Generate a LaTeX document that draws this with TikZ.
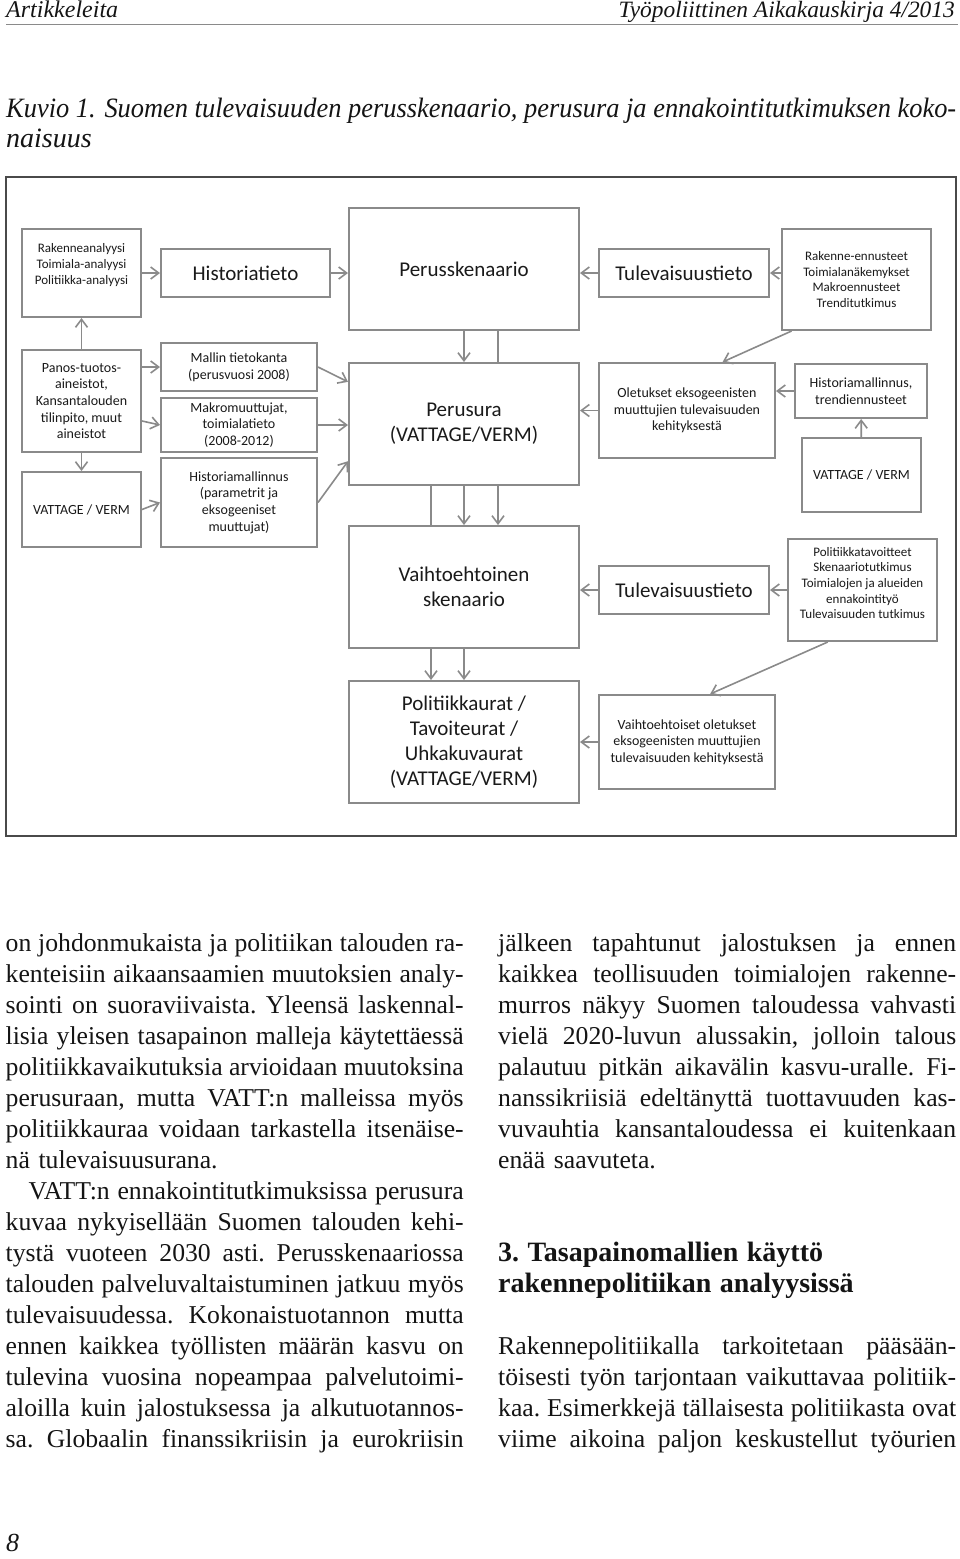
\documentclass[tikz,border=0pt]{standalone}
\usepackage{fontspec}
\usepackage{graphicx}
\setmainfont{Liberation Serif}
\newfontfamily\boxfont{Carlito}
\usetikzlibrary{calc}
\usetikzlibrary{arrows.meta}

\definecolor{boxgray}{HTML}{8A8A8A}
\definecolor{boxtext}{HTML}{1A1A1A}
\definecolor{framegray}{HTML}{4A4A4A}
\definecolor{bodytext}{HTML}{141414}

\newcommand{\jline}[1]{{\spaceskip=0pt \xspaceskip=0pt \makebox[458pt][s]{#1}}}

\begin{document}
\begin{tikzpicture}[x=1pt,y=-1pt,
  box/.style={draw=boxgray, line width=2pt, fill=white, align=center, text=boxtext, inner sep=2pt,
    font=\boxfont\fontsize{14}{16.7}\selectfont},
  bigbox/.style={box, font=\boxfont\fontsize{21}{25}\selectfont},
  smallbox/.style={box, font=\boxfont\fontsize{13}{15.6}\selectfont},
  smalltext/.style={align=center, text=boxtext, font=\boxfont\fontsize{13}{15.6}\selectfont},
  arr/.style={draw=boxgray, line width=1.6pt, -{Straight Barb[length=8pt,width=12pt]}},
  link/.style={draw=boxgray, line width=1.6pt},
  coltext/.style={text width=458pt, align=left, inner sep=0pt, text=bodytext,
    font=\fontsize{25.7}{31}\selectfont\frenchspacing}
]
\useasboundingbox (0,0) rectangle (960,1559);

%header
\node[anchor=base west, text=bodytext, font=\fontsize{24}{28}\selectfont\itshape, inner sep=0pt] (head) at (6,17) {Artikkeleita};
\node[anchor=base east, text=bodytext, font=\fontsize{23.4}{28}\selectfont\itshape, inner sep=0pt] (journal) at (955,17) {Työpoliittinen Aikakauskirja 4/2013};
\draw[boxgray, line width=1pt] (6,24.5) -- (958,24.5);

%caption
\node[anchor=base west, text=bodytext, font=\fontsize{28}{30}\selectfont\itshape, inner sep=0pt] (cap1) at (6,117)
  {\resizebox{950pt}{\height}{Kuvio 1. Suomen tulevaisuuden perusskenaario, perusura ja ennakointitutkimuksen koko-}};
\node[anchor=base west, text=bodytext, font=\fontsize{28}{30}\selectfont\itshape, inner sep=0pt] (cap2) at (6,147) {naisuus};

%frame
\draw[framegray, line width=1.6pt] (6,177) rectangle (956,836);

%top row
\node[smallbox, minimum width=119pt, minimum height=88pt,
  label={[smalltext, yshift=8pt]center:Rakenneanalyysi\\Toimiala-analyysi\\Politiikka-analyysi}] (rak) at (81.5,273) {};
\node[bigbox, minimum width=169pt, minimum height=48pt] (hist) at (245.5,273) {Historiatieto};
\node[bigbox, minimum width=230pt, minimum height=122pt] (perussk) at (464,269) {Perusskenaario};
\node[bigbox, minimum width=170pt, minimum height=48pt] (tultop) at (684,273) {Tulevaisuustieto};
\node[smallbox, minimum width=149pt, minimum height=101pt] (ennust) at (856.5,279.5)
  {Rakenne-ennusteet\\Toimialanäkemykset\\Makroennusteet\\Trenditutkimus};

%second row
\node[box, minimum width=119pt, minimum height=102pt] (panos) at (81.5,401)
  {Panos-tuotos-\\aineistot,\\Kansantalouden\\tilinpito, muut\\aineistot};
\node[box, minimum width=156pt, minimum height=48pt] (mallin) at (239,367) {Mallin tietokanta\\(perusvuosi 2008)};
\node[box, minimum width=156pt, minimum height=54pt] (makro) at (239,425) {Makromuuttujat,\\toimialatieto\\(2008-2012)};
\node[box, minimum width=156pt, minimum height=89pt] (histmal) at (239,502.5)
  {Historiamallinnus\\(parametrit ja\\eksogeeniset\\muuttujat)};
\node[box, minimum width=119pt, minimum height=75pt] (vattL) at (81.5,509.5) {VATTAGE / VERM};
\node[bigbox, minimum width=230pt, minimum height=122pt] (perusura) at (464,424) {Perusura\\(VATTAGE/VERM)};
\node[box, minimum width=176pt, minimum height=95pt] (oletus) at (687,410.5)
  {Oletukset eksogeenisten\\muuttujien tulevaisuuden\\kehityksestä};
\node[box, minimum width=132pt, minimum height=54pt] (trend) at (861,391) {Historiamallinnus,\\trendiennusteet};
\node[box, minimum width=119pt, minimum height=74pt] (vattR) at (861.5,475) {VATTAGE / VERM};

%third row
\node[bigbox, minimum width=230pt, minimum height=122pt] (vaiht) at (464,587) {Vaihtoehtoinen\\skenaario};
\node[bigbox, minimum width=170pt, minimum height=48pt] (tulbot) at (684,590) {Tulevaisuustieto};
\node[smallbox, minimum width=149pt, minimum height=102pt,
  label={[smalltext, yshift=7pt]center:Politiikkatavoitteet\\Skenaariotutkimus\\Toimialojen ja alueiden\\ennakointityö\\Tulevaisuuden tutkimus}] (polit) at (862.5,590) {};

%bottom row
\node[bigbox, minimum width=230pt, minimum height=122pt] (polurat) at (464,742)
  {Politiikkaurat /\\Tavoiteurat /\\Uhkakuvaurat\\(VATTAGE/VERM)};
\node[box, minimum width=176pt, minimum height=94pt] (vaihtol) at (687,742)
  {Vaihtoehtoiset oletukset\\eksogeenisten muuttujien\\tulevaisuuden kehityksestä};

%top row arrows
\draw[arr] (rak.east) -- (hist.west);
\draw[arr] (hist.east) -- (hist.east -| perussk.west);
\draw[arr] (tultop.west) -- (tultop.west -| perussk.east);
\draw[arr] (ennust.west |- tultop) -- (tultop.east);
%left side
\draw[arr] (panos) -- (rak);
\draw[arr] (panos) -- (vattL);
\draw[arr] (panos.east |- mallin) -- (mallin.west);
\draw[arr] (panos.east |- 0,421) -- (makro.west);
\draw[arr] (vattL.east) -- (histmal.west);
\draw[arr] (mallin.east) -- ($(perusura.north west)!0.16!(perusura.south west)$);
\draw[arr] (makro.east) -- (makro.east -| perusura.west);
\draw[arr] (histmal.east) -- ($(perusura.north west)!0.8!(perusura.south west)$);
%middle column
\draw[arr] (perussk) -- (perusura);
\draw[link] ([xshift=34pt]perussk.south) -- ([xshift=34pt]perusura.north);
\draw[link] ([xshift=-33pt]perusura.south) -- ([xshift=-33pt]vaiht.north);
\draw[arr] (perusura) -- (vaiht);
\draw[arr] ([xshift=34pt]perusura.south) -- ([xshift=34pt]vaiht.north);
\draw[arr] ([xshift=-33pt]vaiht.south) -- ([xshift=-33pt]polurat.north);
\draw[arr] (vaiht) -- (polurat);
%right side
\draw[arr] (oletus.west) -- (oletus.west -| perusura.east);
\draw[arr] (trend.west) -- (trend.west -| oletus.east);
\draw[arr] (vattR) -- (trend);
\draw[arr] ($(ennust.south west)!0.07!(ennust.south east)$) -- ($(oletus.north west)!0.7!(oletus.north east)$);
\draw[arr] (tulbot.west) -- (tulbot.west -| vaiht.east);
\draw[arr] (polit.west) -- (polit.west -| tulbot.east);
\draw[arr] ($(polit.south west)!0.27!(polit.south east)$) -- ($(vaihtol.north west)!0.63!(vaihtol.north east)$);
\draw[arr] (vaihtol.west) -- (vaihtol.west -| polurat.east);

%body text
\node[coltext, anchor=base west] (leftcol) at (5.5,951) {%
\jline{on johdonmukaista ja politiikan talouden ra-}\\
\jline{kenteisiin aikaansaamien muutoksien analy-}\\
\jline{sointi on suoraviivaista. Yleensä laskennal-}\\
\jline{lisia yleisen tasapainon malleja käytettäessä}\\
\jline{politiikkavaikutuksia arvioidaan muutoksina}\\
\jline{perusuraan, mutta VATT:n malleissa myös}\\
\jline{politiikkauraa voidaan tarkastella itsenäise-}\\
nä tulevaisuusurana.\\
\jline{\hspace*{23pt}VATT:n ennakointitutkimuksissa perusura}\\
\jline{kuvaa nykyisellään Suomen talouden kehi-}\\
\jline{tystä vuoteen 2030 asti. Perusskenaariossa}\\
\jline{talouden palveluvaltaistuminen jatkuu myös}\\
\jline{tulevaisuudessa. Kokonaistuotannon mutta}\\
\jline{ennen kaikkea työllisten määrän kasvu on}\\
\jline{tulevina vuosina nopeampaa palvelutoimi-}\\
\jline{aloilla kuin jalostuksessa ja alkutuotannos-}\\
\jline{sa. Globaalin finanssikriisin ja eurokriisin}};
\node[coltext, anchor=base west] (rightcol) at (498,951) {%
\jline{jälkeen tapahtunut jalostuksen ja ennen}\\
\jline{kaikkea teollisuuden toimialojen rakenne-}\\
\jline{murros näkyy Suomen taloudessa vahvasti}\\
\jline{vielä 2020-luvun alussakin, jolloin talous}\\
\jline{palautuu pitkän aikavälin kasvu-uralle. Fi-}\\
\jline{nanssikriisiä edeltänyttä tuottavuuden kas-}\\
\jline{vuvauhtia kansantaloudessa ei kuitenkaan}\\
enää saavuteta.\\[62pt]
{\fontsize{28}{31}\selectfont\bfseries 3. Tasapainomallien käyttö}\\
{\fontsize{28}{31}\selectfont\bfseries rakennepolitiikan analyysissä}\\[31pt]
\jline{Rakennepolitiikalla tarkoitetaan pääsään-}\\
\jline{töisesti työn tarjontaan vaikuttavaa politiik-}\\
\jline{kaa. Esimerkkejä tällaisesta politiikasta ovat}\\
\jline{viime aikoina paljon keskustellut työurien}};

%page number
\node[anchor=base west, text=bodytext, font=\fontsize{26}{30}\selectfont\itshape, inner sep=0pt] (pagenum) at (6,1551) {8};
\end{tikzpicture}
\end{document}
